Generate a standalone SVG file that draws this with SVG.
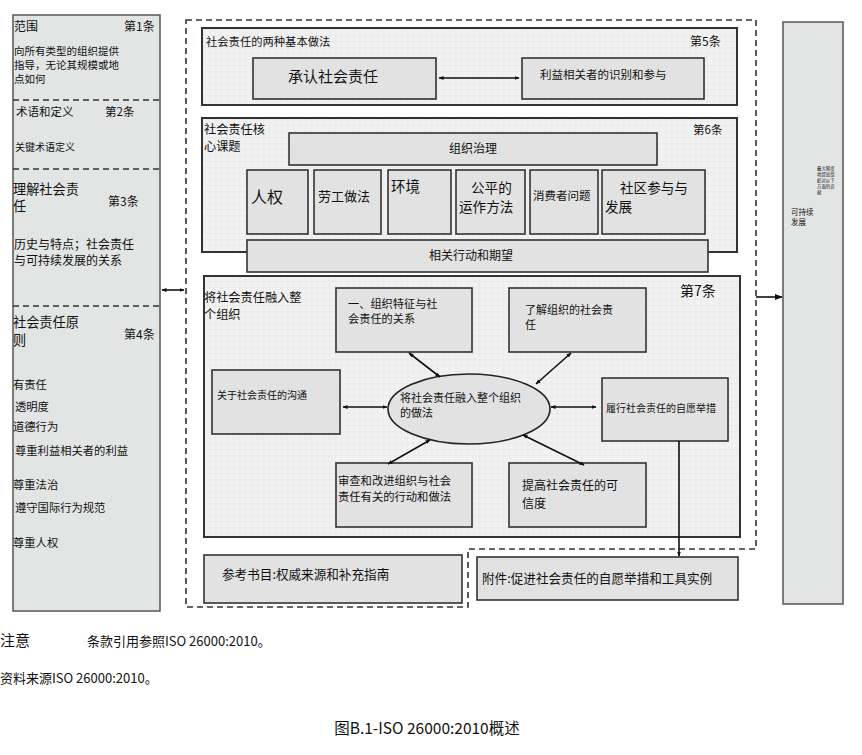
<svg xmlns="http://www.w3.org/2000/svg" width="862" height="755" viewBox="0 0 862 755">
<defs>
<pattern id="grid" width="6" height="6" patternUnits="userSpaceOnUse">
<rect width="6" height="6" fill="#f1f1f1"/>
<path d="M6 0V6M0 6H6" stroke="#e3e3e3" stroke-width="0.8" fill="none"/>
</pattern>
<marker id="ah" viewBox="0 0 10 10" refX="9" refY="5" markerWidth="5" markerHeight="5" orient="auto-start-reverse" markerUnits="userSpaceOnUse">
<path d="M0,1 L10,5 L0,9 Z" fill="#111"/>
</marker>
<marker id="ah2" viewBox="0 0 10 10" refX="9" refY="5" markerWidth="8" markerHeight="8" orient="auto-start-reverse" markerUnits="userSpaceOnUse">
<path d="M0,1 L10,5 L0,9 Z" fill="#111"/>
</marker>
</defs>
<style>
text{font-family:"Noto Sans CJK SC","Noto Sans",sans-serif;fill:#111}
.col{fill:#e3e5e5;stroke:#555;stroke-width:1.5}
.big{fill:url(#grid);stroke:#333;stroke-width:2}
.box{fill:#e2e2e2;stroke:#333;stroke-width:1.6}
.dash{fill:none;stroke:#333;stroke-width:1.6;stroke-dasharray:6 4}
.cn{fill:none;stroke:#111;stroke-width:1.6}
</style>
<rect width="862" height="755" fill="#ffffff"/>

<g id="left-column">
<rect class="col" x="13" y="15" width="147" height="596"/>
<line class="dash" x1="13" y1="100" x2="160" y2="100"/>
<line class="dash" x1="13" y1="169" x2="160" y2="169"/>
<line class="dash" x1="13" y1="306" x2="160" y2="306"/>
<text x="14" y="31" font-size="12">范围</text>
<text x="124" y="31" font-size="12">第1条</text>
<text x="14" y="55" font-size="10.5"><tspan x="14" y="55">向所有类型的组织提供</tspan><tspan x="14" y="69">指导，无论其规模或地</tspan><tspan x="14" y="83">点如何</tspan></text>
<text x="16" y="116" font-size="11.5">术语和定义</text>
<text x="105" y="116" font-size="11.5">第2条</text>
<text x="15" y="151" font-size="10">关键术语定义</text>
<text x="13" y="193.5" font-size="13.2"><tspan x="13" y="193.5">理解社会责</tspan><tspan x="13" y="211">任</tspan></text>
<text x="108" y="206" font-size="12">第3条</text>
<text x="14" y="249" font-size="12"><tspan x="14" y="249">历史与特点；社会责任</tspan><tspan x="14" y="265">与可持续发展的关系</tspan></text>
<text x="13" y="327" font-size="13.2"><tspan x="13" y="327">社会责任原</tspan><tspan x="13" y="344.5">则</tspan></text>
<text x="124" y="339" font-size="12">第4条</text>
<text x="13" y="389" font-size="11.3">有责任</text>
<text x="15" y="411" font-size="11.3">透明度</text>
<text x="13" y="431" font-size="11.3">道德行为</text>
<text x="15" y="455" font-size="11.3">尊重利益相关者的利益</text>
<text x="13" y="489" font-size="11.3">尊重法治</text>
<text x="15" y="512" font-size="11.3">遵守国际行为规范</text>
<text x="13" y="547" font-size="11.3">尊重人权</text>
</g>

<g id="outer-frame">
<path class="dash" d="M186,20 H756 V549 H468 V607 H186 Z"/>
</g>

<g id="clause5">
<rect class="big" x="202" y="28" width="535" height="77"/>
<text x="206" y="46" font-size="11.3">社会责任的两种基本做法</text>
<text x="690" y="46" font-size="12">第5条</text>
</g>
<g id="recognize">
<rect class="box" x="253" y="58" width="183" height="41"/>
<text x="288" y="82" font-size="15">承认社会责任</text>
</g>
<g id="stakeholder">
<rect class="box" x="522" y="58" width="182" height="41"/>
<text x="540" y="79" font-size="11.5">利益相关者的识别和参与</text>
</g>

<g id="clause6">
<rect class="big" x="202" y="118" width="535" height="134"/>
<text x="204" y="134" font-size="12.2"><tspan x="204" y="134">社会责任核</tspan><tspan x="204" y="150.5">心课题</tspan></text>
<text x="693" y="134" font-size="11.5">第6条</text>
</g>
<g id="governance">
<rect class="box" x="289" y="133" width="368" height="32"/>
<text x="473" y="153" font-size="12" text-anchor="middle">组织治理</text>
</g>
<g id="human-rights">
<rect class="box" x="247" y="170" width="61" height="64"/>
<text x="251" y="203" font-size="16">人权</text>
</g>
<g id="labour">
<rect class="box" x="314" y="170" width="67" height="64"/>
<text x="318" y="201" font-size="13">劳工做法</text>
</g>
<g id="environment">
<rect class="box" x="388" y="170" width="63" height="64"/>
<text x="391" y="192" font-size="14.5">环境</text>
</g>
<g id="fair-operating">
<rect class="box" x="456" y="170" width="69" height="64"/>
<text x="471" y="193" font-size="13.6"><tspan x="471" y="193">公平的</tspan><tspan x="459" y="211.5">运作方法</tspan></text>
</g>
<g id="consumer">
<rect class="box" x="530" y="170" width="68" height="64"/>
<text x="533" y="200" font-size="11.5">消费者问题</text>
</g>
<g id="community">
<rect class="box" x="602" y="170" width="103" height="64"/>
<text x="620" y="193" font-size="13.6"><tspan x="620" y="193">社区参与与</tspan><tspan x="605" y="211.5">发展</tspan></text>
</g>
<g id="related-actions">
<rect class="box" x="247" y="240" width="461" height="32"/>
<text x="471" y="260" font-size="12" text-anchor="middle">相关行动和期望</text>
</g>

<g id="clause7">
<rect class="big" x="204" y="276" width="536" height="261"/>
<text x="204" y="302" font-size="12.2"><tspan x="204" y="302">将社会责任融入整</tspan><tspan x="204" y="318.5">个组织</tspan></text>
<text x="680" y="296" font-size="14">第7条</text>
</g>
<g id="box-a">
<rect class="box" x="336" y="288" width="136" height="64"/>
<text x="348" y="307.5" font-size="11.2"><tspan x="348" y="307.5">一、组织特征与社</tspan><tspan x="348" y="322.5">会责任的关系</tspan></text>
</g>
<g id="box-b">
<rect class="box" x="509" y="288" width="137" height="64"/>
<text x="525" y="313.5" font-size="11"><tspan x="525" y="313.5">了解组织的社会责</tspan><tspan x="525" y="328.5">任</tspan></text>
</g>
<g id="box-c">
<rect class="box" x="212" y="370" width="128" height="64"/>
<text x="217" y="399" font-size="10">关于社会责任的沟通</text>
</g>
<g id="center">
<ellipse cx="469" cy="409" rx="81" ry="35" fill="#e2e2e2" stroke="#222" stroke-width="1.6"/>
<text x="400" y="401.5" font-size="11"><tspan x="400" y="401.5">将社会责任融入整个组织</tspan><tspan x="400" y="416.5">的做法</tspan></text>
</g>
<g id="box-d">
<rect class="box" x="602" y="378" width="126" height="63"/>
<text x="606" y="412" font-size="10">履行社会责任的自愿举措</text>
</g>
<g id="box-e">
<rect class="box" x="336" y="463" width="136" height="64"/>
<text x="338" y="485" font-size="11.3"><tspan x="338" y="485">审查和改进组织与社会</tspan><tspan x="338" y="500.5">责任有关的行动和做法</tspan></text>
</g>
<g id="box-f">
<rect class="box" x="509" y="463" width="137" height="64"/>
<text x="522" y="490" font-size="12"><tspan x="522" y="490">提高社会责任的可</tspan><tspan x="522" y="508">信度</tspan></text>
</g>

<g id="bibliography">
<rect class="box" x="204" y="555" width="258" height="48"/>
<text x="222" y="579" font-size="12.6">参考书目:权威来源和补充指南</text>
</g>
<g id="annex">
<rect class="box" x="477" y="557" width="261" height="43"/>
<text x="482" y="582.5" font-size="12.6">附件:促进社会责任的自愿举措和工具实例</text>
</g>

<g id="right-column">
<rect class="col" x="783" y="22" width="60" height="582"/>
<text x="817" y="170" font-size="4.4"><tspan x="817" y="170">最大限度</tspan><tspan x="817" y="176">地提高组</tspan><tspan x="817" y="182">织对以下</tspan><tspan x="817" y="188">方面的贡</tspan><tspan x="817" y="194">献</tspan></text>
<text x="791" y="215" font-size="7.5"><tspan x="791" y="215">可持续</tspan><tspan x="791" y="225">发展</tspan></text>
</g>

<g id="connectors">
<line class="cn" x1="162" y1="290" x2="184" y2="290" marker-start="url(#ah)" marker-end="url(#ah)"/>
<line class="cn" x1="756" y1="297" x2="782" y2="297" stroke-width="2" marker-end="url(#ah2)"/>
<line class="cn" x1="439" y1="78" x2="519" y2="78" marker-start="url(#ah)" marker-end="url(#ah)"/>
<line class="cn" x1="409" y1="353" x2="440" y2="377" marker-start="url(#ah)" marker-end="url(#ah)"/>
<line class="cn" x1="571" y1="353" x2="536" y2="384" marker-start="url(#ah)" marker-end="url(#ah)"/>
<line class="cn" x1="343" y1="407" x2="387" y2="407" marker-start="url(#ah)" marker-end="url(#ah)"/>
<line class="cn" x1="551" y1="407" x2="596" y2="407" marker-start="url(#ah)" marker-end="url(#ah)"/>
<line class="cn" x1="430" y1="440" x2="388" y2="464" marker-start="url(#ah)" marker-end="url(#ah)"/>
<line class="cn" x1="523" y1="435" x2="584" y2="465" marker-start="url(#ah)" marker-end="url(#ah)"/>
<line class="cn" x1="679" y1="441" x2="679" y2="556" stroke-width="1.3" marker-end="url(#ah)"/>
</g>

<g id="notes">
<text x="0" y="646" font-size="15">注意</text>
<text x="87" y="645.5" font-size="13">条款引用参照ISO 26000:2010。</text>
<text x="0" y="682.5" font-size="13">资料来源ISO 26000:2010。</text>
<text x="427" y="734" font-size="15.5" text-anchor="middle">图B.1-ISO 26000:2010概述</text>
</g>
</svg>
